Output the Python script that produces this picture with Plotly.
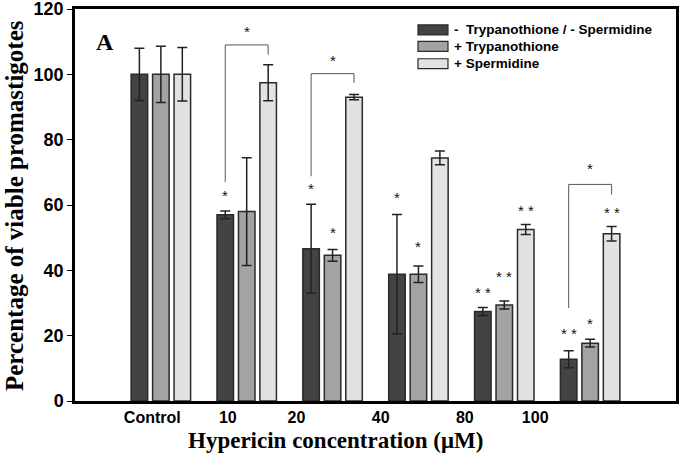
import plotly.graph_objects as go

categories = ["Control", "10", "20", "40", "80", "100"]
series_names = ["-  Trypanothione / - Spermidine", "+ Trypanothione", "+ Spermidine"]
none_vals = [100, 57.0, 46.6, 38.8, 27.4, 12.8]
none_err = [8.0, 1.2, 13.6, 18.3, 1.2, 2.6]
tryp_vals = [100, 58.0, 44.6, 38.8, 29.4, 17.7]
tryp_err = [8.6, 16.5, 1.8, 2.5, 1.2, 1.2]
sperm_vals = [100, 97.4, 93.0, 74.4, 52.5, 51.2]
sperm_err = [8.2, 5.5, 0.8, 2.1, 1.5, 2.2]
y_ticks = [0, 20, 40, 60, 80, 100, 120]

# significance marks: (series index, category index, label, y value)
sig_marks = [
    (0, 1, "*", 63.0), (0, 2, "*", 65.0), (1, 2, "*", 51.7),
    (0, 3, "*", 62.4), (1, 3, "*", 47.2),
    (0, 4, "* *", 33.2), (1, 4, "* *", 38.1), (2, 4, "* *", 58.4),
    (0, 5, "* *", 20.7), (1, 5, "*", 23.7), (2, 5, "* *", 57.8),
]
# brackets between -/- and +Spermidine: (category index, left low, top, right low, label y)
brackets = [
    (1, 67.0, 109.0, 106.0, 113.0),
    (2, 68.8, 100.2, 97.4, 104.2),
    (5, 28.5, 66.3, 63.2, 71.1),
]
tick_label_pos = [-0.1, 0.78, 1.58, 2.56, 3.54, 4.36]

colors = ["#434343", "#a3a3a3", "#e2e2e2"]
vals = [none_vals, tryp_vals, sperm_vals]
errs = [none_err, tryp_err, sperm_err]
xs = list(range(len(categories)))

fig = go.Figure()
for name, v, e, c in zip(series_names, vals, errs, colors):
    fig.add_trace(go.Bar(
        x=xs, y=v, name=name, showlegend=False,
        marker=dict(color=c, line=dict(color="#2a2a2a", width=1.5)),
        error_y=dict(type="data", array=e, visible=True, color="#222222",
                     thickness=1.5, width=5),
    ))

offsets = [-0.25, 0.0, 0.25]
ann = []
for s, ci, lab, yv in sig_marks:
    ann.append(dict(x=ci + offsets[s], y=yv, xref="x", yref="y", text=lab,
                    showarrow=False, yanchor="middle",
                    font=dict(family="Liberation Sans", size=15, color="#111")))
shapes = []
for ci, yl, yt, yr, ys in brackets:
    xl, xr = ci + offsets[0], ci + offsets[2]
    shapes.append(dict(type="path", xref="x", yref="y",
                       path=f"M {xl},{yl} L {xl},{yt} L {xr},{yt} L {xr},{yr}",
                       line=dict(color="#555555", width=1)))
    ann.append(dict(x=(xl + xr) / 2, y=ys, xref="x", yref="y", text="*",
                    showarrow=False, yanchor="middle",
                    font=dict(family="Liberation Sans", size=15, color="#111")))

# legend (drawn as layout elements)
legend_rows = [0.9467, 0.9048, 0.8604]
for name, c, ry in zip(series_names, colors, legend_rows):
    shapes.append(dict(type="rect", xref="paper", yref="paper",
                       x0=0.5707, x1=0.6206, y0=ry - 0.0127, y1=ry + 0.0127,
                       fillcolor=c, line=dict(color="#2a2a2a", width=1.2)))
    ann.append(dict(x=0.628, y=ry, xref="paper", yref="paper", text=f"<b>{name}</b>",
                    showarrow=False, xanchor="left", yanchor="middle",
                    font=dict(family="Liberation Sans", size=13.5, color="black")))

ann.append(dict(x=0.05, y=0.916, xref="paper", yref="paper", text="<b>A</b>",
                showarrow=False, xanchor="center", yanchor="middle",
                font=dict(family="Liberation Serif", size=24, color="black")))
ann.append(dict(x=0.434, y=-0.102, xref="paper", yref="paper",
                text="<b>Hypericin concentration (μM)</b>", showarrow=False,
                xanchor="center", yanchor="middle",
                font=dict(family="Liberation Serif", size=23, color="black")))
ann.append(dict(x=-0.1015, y=0.5, xref="paper", yref="paper",
                text="<b>Percentage of viable promastigotes</b>", showarrow=False,
                textangle=-90, xanchor="center", yanchor="middle",
                font=dict(family="Liberation Serif", size=25, color="black")))

fig.update_layout(
    width=680, height=464,
    margin=dict(l=75, r=4, t=9, b=63, autoexpand=False),
    plot_bgcolor="white", paper_bgcolor="white",
    barmode="group", bargap=0.25, bargroupgap=0.23,
    showlegend=False,
    annotations=ann, shapes=shapes,
)
fig.update_xaxes(range=[-1, 6], tickmode="array", tickvals=tick_label_pos,
                 ticktext=[f"<b>{c}</b>" for c in categories], ticks="",
                 showgrid=False, zeroline=False, automargin=False,
                 showline=True, linecolor="black", linewidth=2.5, mirror=True,
                 tickfont=dict(family="Liberation Sans", size=16, color="black"))
fig.update_yaxes(range=[0, 120], tickmode="array", tickvals=y_ticks,
                 ticktext=[f"<b>{t}</b>" for t in y_ticks],
                 ticks="outside", ticklen=5, automargin=False,
                 ticklabeloverflow="allow",
                 tickcolor="black", showgrid=False, zeroline=False,
                 showline=True, linecolor="black", linewidth=2.5, mirror=True,
                 tickfont=dict(family="Liberation Sans", size=18, color="black"))

fig.write_html("out.html", config={"displayModeBar": False},
               post_script="document.body.style.margin='0';document.body.style.padding='0';")
